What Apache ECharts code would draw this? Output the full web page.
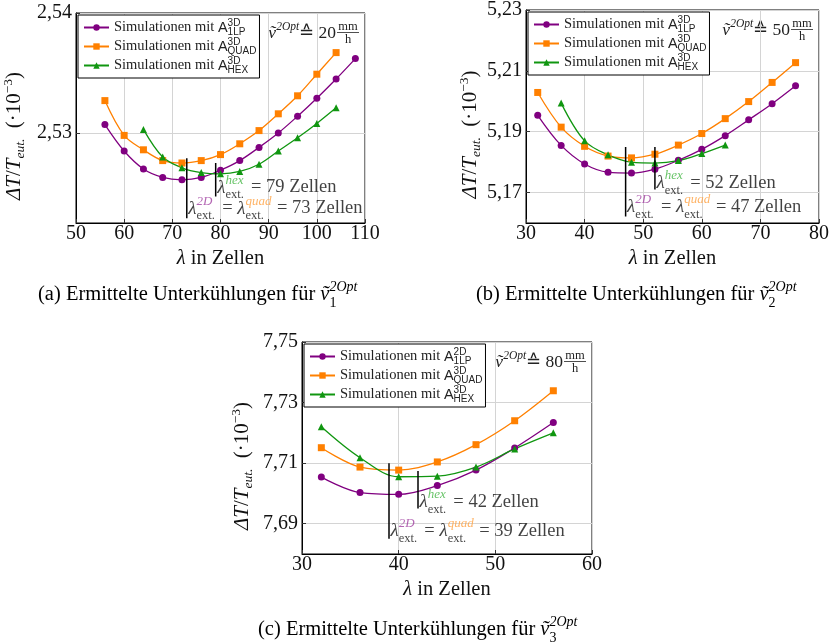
<!DOCTYPE html>
<html><head><meta charset="utf-8">
<script src="https://cdn.jsdelivr.net/npm/echarts@6/dist/echarts.min.js"></script>
<style>html,body{margin:0;padding:0;background:#fff}#c{width:832px;height:643px}</style>
</head><body><div id="c"></div>
<script>
// ---------------- DATA ----------------
// (a) v = 20 mm/h
const xA1LP  = [56,60,64,68,72,76,80,84,88,92,96,100,104,108];
const yA1LP  = [2.5307,2.5285,2.5270,2.5263,2.5261,2.5263,2.5269,2.5277,2.5288,2.5300,2.5314,2.5329,2.5345,2.5362];
const xAQuad = [56,60,64,68,72,76,80,84,88,92,96,100,104];
const yAQuad = [2.5327,2.5298,2.5286,2.5277,2.5275,2.5277,2.5282,2.5291,2.5302,2.5316,2.5331,2.5349,2.5367];
const xAHex  = [64,68,72,76,80,84,88,92,96,100,104];
const yAHex  = [2.5303,2.5280,2.5271,2.5267,2.5266,2.5268,2.5274,2.5285,2.5296,2.5308,2.5321];
// (b) v = 50 mm/h
const xB1LP  = [32,36,40,44,48,52,56,60,64,68,72,76];
const yB1LP  = [5.1954,5.1855,5.1794,5.1767,5.1764,5.1777,5.1806,5.1842,5.1887,5.1939,5.1992,5.2051];
const xBQuad = [32,36,40,44,48,52,56,60,64,68,72,76];
const yBQuad = [5.2029,5.1915,5.1852,5.1820,5.1814,5.1826,5.1856,5.1894,5.1943,5.1999,5.2062,5.2127];
const xBHex  = [36,40,44,48,52,56,60,64];
const yBHex  = [5.1994,5.1870,5.1824,5.1800,5.1797,5.1805,5.1828,5.1856];
// (c) v = 80 mm/h
const xC     = [32,36,40,44,48,52,56];
const yC2D   = [7.7054,7.7003,7.6997,7.7026,7.7077,7.7150,7.7234];
const yCQuad = [7.7151,7.7087,7.7077,7.7104,7.7161,7.7240,7.7339];
const yCHex  = [7.7220,7.7118,7.7055,7.7057,7.7087,7.7147,7.7200];
// ticks
const xTicksA = [50,60,70,80,90,100,110];
const xTicksB = [30,40,50,60,70,80];
const xTicksC = [30,40,50,60];
const yTicksA = [2.53,2.54];
const yTicksB = [5.17,5.19,5.21,5.23];
const yTicksC = [7.69,7.71,7.73,7.75];
// extremum lambdas and marker-line extents [lambda, yLow, yHigh]
const extA2D  = [73, 2.5229, 2.5279];
const extAHex = [79, 2.5247, 2.5275];
const extB2D  = [47, 5.1621, 5.1850];
const extBHex = [52, 5.1710, 5.1850];
const extC2D  = [39, 7.6850, 7.7100];
const extCHex = [42, 7.6950, 7.7074];
// speeds
const speeds = ['20','50','80'];

// ---------------- STYLE ----------------
const FONT = "'Liberation Serif','DejaVu Serif',serif";
const SANS = "'Liberation Sans','DejaVu Sans',sans-serif";
const COL = {lp:'#800080', quad:'#ff8000', hex:'#109610'};
const SUPCOL = {lp:'#a040a0', quad:'#ffa040', hex:'#40b440'};

const N = {
  lp3:'Simulationen mit A3D1LP', lp2:'Simulationen mit A2D1LP',
  quad:'Simulationen mit A3DQUAD', hex:'Simulationen mit A3DHEX'
};
const legendFmt = {};
legendFmt[N.lp3]  = 'Simulationen mit {A|A}{sp|3D}{sb|1LP}';
legendFmt[N.lp2]  = 'Simulationen mit {A|A}{sp|2D}{sb|1LP}';
legendFmt[N.quad] = 'Simulationen mit {A|A}{sp|3D}{sb|QUAD}';
legendFmt[N.hex]  = 'Simulationen mit {A|A}{sp|3D}{sb|HEX}';

const zip = (xs, ys) => xs.map((x, i) => [x, ys[i]]);

const panels = [
  {grid:{left:76, top:13, width:289, height:210}, x:[50,110], y:[2.5225,2.54], yTicks:yTicksA, yGap:49,
   data:[[N.lp3,xA1LP,yA1LP,'lp','circle'],[N.quad,xAQuad,yAQuad,'quad','rect'],[N.hex,xAHex,yAHex,'hex','triangle']],
   e2D:extA2D, eHex:extAHex, lab2DY:2.5237, labHexY:2.52545,
   cap:'(a)', capSub:'1', capLeft:38, capTop:280},
  {grid:{left:526, top:10, width:293, height:213}, x:[30,80], y:[5.16,5.23], yTicks:yTicksB, yGap:42,
   data:[[N.lp3,xB1LP,yB1LP,'lp','circle'],[N.quad,xBQuad,yBQuad,'quad','rect'],[N.hex,xBHex,yBHex,'hex','triangle']],
   e2D:extB2D, eHex:extBHex, lab2DY:5.1653, labHexY:5.1732,
   cap:'(b)', capSub:'2', capLeft:476, capTop:280},
  {grid:{left:302, top:342, width:290, height:212}, x:[30,60], y:[7.68,7.75], yTicks:yTicksC, yGap:47,
   data:[[N.lp2,xC,yC2D,'lp','circle'],[N.quad,xC,yCQuad,'quad','rect'],[N.hex,xC,yCHex,'hex','triangle']],
   e2D:extC2D, eHex:extCHex, lab2DY:7.6876, labHexY:7.6972,
   cap:'(c)', capSub:'3', capLeft:258, capTop:615}
];

const lamRich = {
  l:  {fontFamily:FONT, fontSize:19, fontStyle:'italic', lineHeight:28, color:'#111'},
  sb: {fontFamily:FONT, fontSize:12.5, lineHeight:13, verticalAlign:'bottom', width:0, color:'#111'},
  spH:{fontFamily:FONT, fontSize:13, fontStyle:'italic', lineHeight:13, verticalAlign:'top', width:21, color:SUPCOL.hex},
  spP:{fontFamily:FONT, fontSize:13, fontStyle:'italic', lineHeight:13, verticalAlign:'top', width:21, color:SUPCOL.lp},
  spO:{fontFamily:FONT, fontSize:13, fontStyle:'italic', lineHeight:13, verticalAlign:'top', width:27, color:SUPCOL.quad},
  t:  {fontFamily:FONT, fontSize:18.5, lineHeight:28, color:'#111'}
};

const option = {
  animation:false,
  backgroundColor:'#fff',
  grid:[], xAxis:[], yAxis:[], series:[], legend:[], title:[], graphic:[]
};

panels.forEach((p, i) => {
  option.grid.push(Object.assign({show:true, borderColor:'#000', borderWidth:1, containLabel:false}, p.grid));
  option.xAxis.push({
    type:'value', gridIndex:i, min:p.x[0], max:p.x[1], interval:10,
    name:'{l|λ} in Zellen', nameLocation:'middle', nameGap:25,
    nameTextStyle:{fontFamily:FONT, fontSize:20.5, color:'#111', rich:{l:{fontFamily:FONT, fontSize:20.5, fontStyle:'italic', color:'#111'}}},
    axisLine:{lineStyle:{color:'#000', width:1}},
    axisTick:{inside:true, length:4, lineStyle:{color:'#333'}},
    axisLabel:{fontFamily:FONT, fontSize:20, color:'#111', margin:1},
    splitLine:{show:true, lineStyle:{color:'#d4d4d4', width:1}}
  });
  option.yAxis.push({
    type:'value', gridIndex:i, min:p.y[0], max:p.y[1],
    name:'{it|ΔT}{n|/}{it|T}{sb|eut.}{n|  (·10}{sp|−3}{n|)}', nameLocation:'middle', nameRotate:90, nameGap:p.yGap,
    nameTextStyle:{fontFamily:FONT, fontSize:21, color:'#111', padding:[0,36,0,0], rich:{
      it:{fontFamily:FONT, fontSize:21, fontStyle:'italic', color:'#111', lineHeight:26},
      n:{fontFamily:FONT, fontSize:21, color:'#111', lineHeight:26},
      sb:{fontFamily:FONT, fontSize:13.5, fontStyle:'italic', color:'#111', verticalAlign:'bottom', lineHeight:13},
      sp:{fontFamily:FONT, fontSize:13.5, color:'#111', verticalAlign:'top', lineHeight:13}
    }},
    axisLine:{lineStyle:{color:'#000', width:1}},
    axisTick:{inside:true, length:4, lineStyle:{color:'#333'}, customValues:p.yTicks},
    axisLabel:{fontFamily:FONT, fontSize:20, color:'#111', margin:4, customValues:p.yTicks,
      formatter:v => v.toFixed(2).replace('.', ',')},
    splitLine:{show:true, lineStyle:{color:'#d4d4d4', width:1}}
  });
  p.data.forEach(d => {
    option.series.push({
      type:'line', name:d[0], xAxisIndex:i, yAxisIndex:i, data:zip(d[1], d[2]),
      symbol:d[4], symbolSize:7, smooth:0.35,
      itemStyle:{color:COL[d[3]]}, lineStyle:{color:COL[d[3]], width:1.3}, z:3
    });
  });
  [p.e2D, p.eHex].forEach(e => {
    option.series.push({
      type:'line', xAxisIndex:i, yAxisIndex:i, data:[[e[0], e[1]],[e[0], e[2]]],
      symbol:'none', silent:true, lineStyle:{color:'#000', width:1.5}, z:4
    });
  });
  option.series.push({
    type:'scatter', xAxisIndex:i, yAxisIndex:i, silent:true, symbolSize:1, itemStyle:{color:'rgba(0,0,0,0)'}, z:5,
    data:[
      {value:[p.eHex[0], p.labHexY], label:{formatter:'{l|λ}{sb|ext.}{spH|hex}{t| = ' + p.eHex[0] + ' Zellen}'}},
      {value:[p.e2D[0], p.lab2DY], label:{formatter:'{l|λ}{sb|ext.}{spP|2D}{t| = }{l|λ}{sb|ext.}{spO|quad}{t| = ' + p.e2D[0] + ' Zellen}'}}
    ],
    label:{show:true, position:'right', distance:1, rich:lamRich}
  });
  option.legend.push({
    orient:'vertical', left:p.grid.left + 2, top:p.grid.top + 2,
    data:p.data.map(d => d[0]), selectedMode:false,
    backgroundColor:'#fff', borderColor:'#000', borderWidth:1, padding:[3,3,3,5], itemGap:0,
    itemWidth:25, itemHeight:8,
    formatter:n => legendFmt[n],
    textStyle:{fontFamily:FONT, fontSize:14.5, color:'#222', lineHeight:19, rich:{
      A:{fontFamily:SANS, fontSize:14.5, color:'#222', lineHeight:19},
      sp:{fontFamily:SANS, fontSize:10, color:'#222', verticalAlign:'top', lineHeight:10, width:0},
      sb:{fontFamily:SANS, fontSize:10, color:'#222', verticalAlign:'bottom', lineHeight:10}
    }}
  });
  option.title.push({
    text:p.cap + ' Ermittelte Unterkühlungen für {v|ṽ}{sb|' + p.capSub + '}{sp|2Opt}',
    left:p.capLeft, top:p.capTop, padding:0,
    textStyle:{fontFamily:FONT, fontSize:20.5, fontWeight:'normal', color:'#000', lineHeight:30, rich:{
      v:{fontFamily:FONT, fontSize:20.5, fontStyle:'italic', color:'#000', lineHeight:30},
      sb:{fontFamily:FONT, fontSize:14, color:'#000', verticalAlign:'bottom', lineHeight:14, width:0},
      sp:{fontFamily:FONT, fontSize:14, fontStyle:'italic', color:'#000', verticalAlign:'top', lineHeight:14}
    }}
  });
  const gx = p.grid.left + p.grid.width, gy = p.grid.top + 19;
  option.graphic.push({
    type:'group', x:gx, y:gy, z:100, children:[
      {type:'text', x:-29, y:1, style:{
        text:'{v|ṽ}{sp|2Opt}{n|≙ ' + speeds[i] + '}', align:'right', verticalAlign:'middle',
        rich:{
          v:{fontFamily:FONT, fontSize:17.5, fontStyle:'italic', fill:'#222', lineHeight:24},
          sp:{fontFamily:FONT, fontSize:11.5, fontStyle:'italic', fill:'#222', verticalAlign:'top', lineHeight:12},
          n:{fontFamily:FONT, fontSize:17.5, fill:'#222', lineHeight:24}
        }}},
      {type:'text', x:-17, y:-5, style:{text:'mm', fontFamily:FONT, fontSize:12.5, fill:'#222', align:'center', verticalAlign:'middle'}},
      {type:'line', shape:{x1:-28, y1:0.5, x2:-6, y2:0.5}, style:{stroke:'#222', lineWidth:0.8}},
      {type:'text', x:-17, y:8, style:{text:'h', fontFamily:FONT, fontSize:12.5, fill:'#222', align:'center', verticalAlign:'middle'}}
    ]
  });
});

const chart = echarts.init(document.getElementById('c'));
chart.setOption(option);
</script>
</body></html>
